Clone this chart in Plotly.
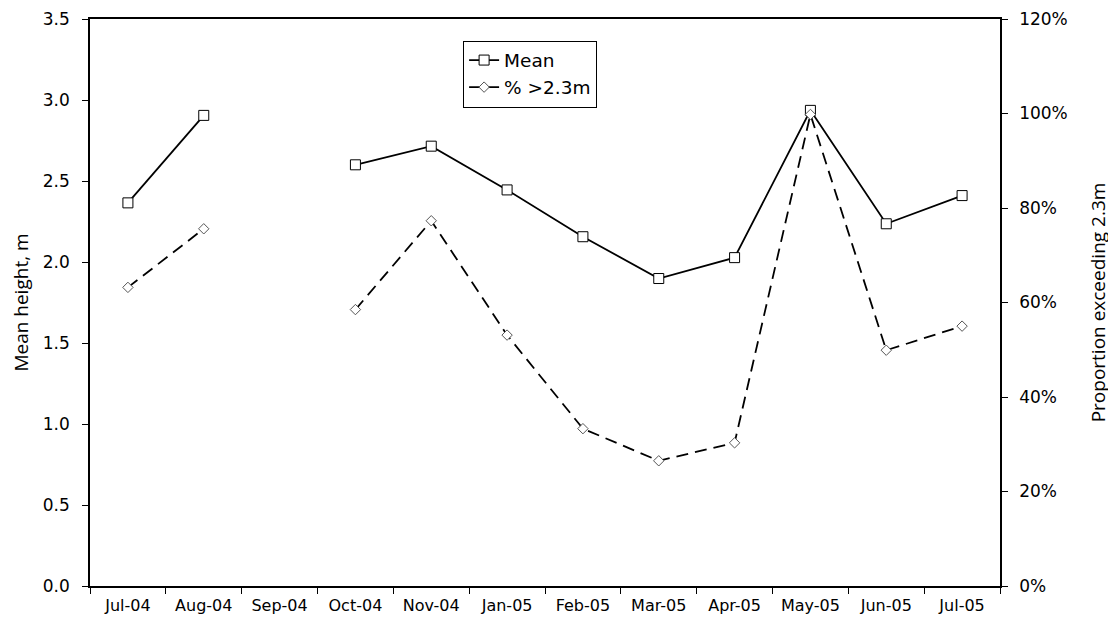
import plotly.graph_objects as go

months = ["Jul-04", "Aug-04", "Sep-04", "Oct-04", "Nov-04", "Jan-05", "Feb-05",
          "Mar-05", "Apr-05", "May-05", "Jun-05", "Jul-05"]
mean_height = [2.365, 2.905, None, 2.60, 2.715, 2.445, 2.156, 1.898, 2.027, 2.936, 2.236, 2.41]
pct_exceed = [0.632, 0.756, None, 0.585, 0.773, 0.531, 0.333, 0.265, 0.303, 0.998, 0.499, 0.55]

FONT = "DejaVu Sans"
TITLE_FONT = "Open Sans"

fig = go.Figure()
fig.add_trace(go.Scatter(
    x=months, y=mean_height, name="Mean", mode="lines+markers",
    connectgaps=False,
    line=dict(color="black", width=1.8),
    marker=dict(symbol="square", size=10, color="white", line=dict(color="black", width=1)),
))
fig.add_trace(go.Scatter(
    x=months, y=pct_exceed, name="% >2.3m", mode="lines+markers",
    connectgaps=False, yaxis="y2",
    line=dict(color="black", width=1.8, dash="12px,7px"),
    marker=dict(symbol="diamond", size=8, color="white", line=dict(color="#555555", width=1)),
))

fig.update_layout(
    width=1108, height=607,
    margin=dict(l=82, r=116, t=11, b=29, autoexpand=False),
    plot_bgcolor="white", paper_bgcolor="white",
    font=dict(family=FONT, size=14, color="black"),
    showlegend=True,
    legend=dict(x=0.41, y=0.962, xanchor="left", yanchor="top",
                bordercolor="black", borderwidth=1, bgcolor="white",
                font=dict(family=FONT, size=18.5), tracegroupgap=0,
                itemwidth=30),
    xaxis=dict(type="category", categoryorder="array", categoryarray=months,
               range=[-0.5, len(months) - 0.5],
               showline=True, linecolor="black", linewidth=1.5, mirror=True,
               ticks="outside", tickson="boundaries", ticklen=6, tickcolor="black",
               showgrid=False, zeroline=False, automargin=False,
               ticklabelstandoff=4, ticklabeloverflow="allow",
               tickfont=dict(family=FONT, size=16)),
    yaxis=dict(range=[0, 3.5], dtick=0.5, tickformat=".1f",
               showline=True, linecolor="black", linewidth=1.5,
               ticks="outside", ticklen=6, tickcolor="black",
               showgrid=False, zeroline=False, automargin=False,
               ticklabelstandoff=9, ticklabeloverflow="allow",
               tickfont=dict(family=FONT, size=17),
               title=dict(text="Mean height, m", font=dict(family=TITLE_FONT, size=19), standoff=12)),
    yaxis2=dict(range=[0, 1.2], dtick=0.2, tickformat=".0%", overlaying="y", side="right",
                showline=True, linecolor="black", linewidth=1.5,
                ticks="outside", ticklen=6, tickcolor="black",
                showgrid=False, zeroline=False, automargin=False,
                ticklabelstandoff=8, ticklabeloverflow="allow",
                tickfont=dict(family=FONT, size=17),
                title=dict(text="Proportion exceeding 2.3m", font=dict(family=TITLE_FONT, size=19), standoff=25)),
)

fig.write_html("out.html")
